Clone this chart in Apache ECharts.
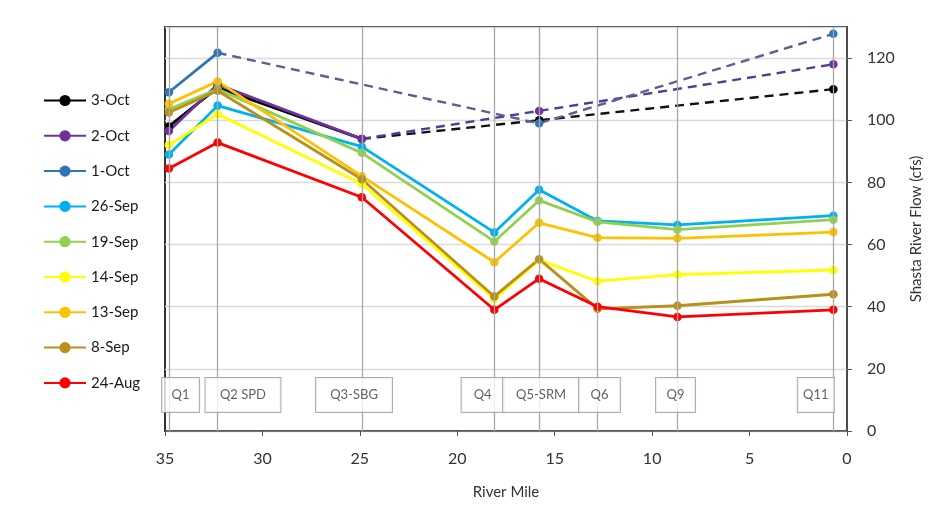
<!DOCTYPE html>
<html>
<head>
<meta charset="utf-8">
<script src="https://cdn.jsdelivr.net/npm/echarts@6/dist/echarts.min.js"></script>
<style>
  html, body { margin: 0; padding: 0; background: #fff; }
  #chart { width: 938px; height: 518px; }
</style>
</head>
<body>
<div id="chart"></div>
<script>
// Monitoring stations along the Shasta River (river mile of each station)
const stations = ['Q1', 'Q2 SPD', 'Q3-SBG', 'Q4', 'Q5-SRM', 'Q6', 'Q9', 'Q11'];
const stationMile = [34.8, 32.3, 24.9, 18.1, 15.8, 12.8, 8.7, 0.7];
// River mile at which each station tag is centred
const tagMile = [34.2, 31.0, 25.3, 18.7, 15.7, 12.7, 8.8, 1.6];

// Survey dates (legend order)
const dates = ['3-Oct', '2-Oct', '1-Oct', '26-Sep', '19-Sep', '14-Sep', '13-Sep', '8-Sep', '24-Aug'];

// Flow (cfs) per station, Q1 .. Q11; null = not measured that day
const flow3Oct  = [98,    110.5, 94,   null, 100,  null, null, 110];
const flow2Oct  = [96.5,  111.5, 94,   null, 103,  null, null, 118];
const flow1Oct  = [109,   121.7, null, null, 99,   null, null, 127.8];
const flow26Sep = [89,    104.7, 91.5, 63.9, 77.6, 67.6, 66.3, 69.3];
const flow19Sep = [103.5, 110,   89.5, 61,   74.2, 67.3, 64.8, 68];
const flow14Sep = [92,    102,   79.5, 42.5, 55,   48.2, 50.3, 51.8];
const flow13Sep = [105.3, 112.5, 82,   54.3, 67,   62.2, 62,   64];
const flow8Sep  = [102.5, 109.5, 81,   43.3, 55.3, 39.3, 40.3, 44];
const flow24Aug = [84.5,  92.8,  75.2, 39,   49,   40,   36.7, 39];

const flows = [flow3Oct, flow2Oct, flow1Oct, flow26Sep, flow19Sep, flow14Sep, flow13Sep, flow8Sep, flow24Aug];

// Line colours per date, and the colour used for the dashed (skipped-station) links
const colors = ['#000000', '#7030A0', '#2E75B6', '#00B0F0', '#92D050', '#FFFF00', '#FFC000', '#B8901A', '#FF0000'];
const dashColors = ['#111111', '#4d3f98', '#56628f', null, null, null, null, null, null];

// Width of each station tag box (px)
const tagWidth = [37, 75, 76, 42, 76, 41, 39, 36];

const FONT = 'Lato, "Open Sans", sans-serif';

function solidData(vals) {
  return vals.map((v, i) => [stationMile[i], v]);
}

// Dashed links join measured stations that have unmeasured stations between them
function dashedData(vals) {
  const idx = vals.map((v, i) => (v == null ? -1 : i)).filter(i => i >= 0);
  const out = [];
  let lastEnd = -1;
  for (let k = 0; k < idx.length - 1; k++) {
    const a = idx[k], b = idx[k + 1];
    if (b > a + 1) {
      if (lastEnd !== a) {
        if (out.length) out.push([null, null]);
        out.push([stationMile[a], vals[a]]);
      }
      out.push([stationMile[b], vals[b]]);
      lastEnd = b;
    }
  }
  return out;
}

const series = [];

// Station reference lines
series.push({
  type: 'scatter',
  name: '__stations',
  data: [],
  z: 1,
  silent: true,
  markLine: {
    silent: true,
    symbol: ['none', 'none'],
    label: { show: false },
    lineStyle: { color: '#a9a9a9', width: 1.3, type: 'solid' },
    data: stationMile.map(m => ({ xAxis: m }))
  }
});

dates.forEach((d, s) => {
  series.push({
    type: 'line',
    name: d,
    data: solidData(flows[s]),
    connectNulls: false,
    z: 3,
    symbol: 'circle',
    symbolSize: 8.5,
    showSymbol: true,
    lineStyle: { color: colors[s], width: 2.8 },
    itemStyle: { color: colors[s] },
    emphasis: { disabled: true },
    animation: false
  });
});

dates.forEach((d, s) => {
  const dd = dashedData(flows[s]);
  if (!dd.length) return;
  series.push({
    type: 'line',
    name: d,
    data: dd,
    connectNulls: false,
    z: 2,
    symbol: 'none',
    lineStyle: { color: dashColors[s] || colors[s], width: 2.4, type: [9, 6] },
    emphasis: { disabled: true },
    animation: false
  });
});

// Station tags near the bottom of the plot
series.push({
  type: 'scatter',
  name: '__tags',
  z: 6,
  silent: true,
  symbolSize: 1,
  itemStyle: { color: 'rgba(0,0,0,0)' },
  data: tagMile.map((m, i) => ({
    value: [m, 11.6],
    label: {
      show: true,
      formatter: stations[i],
      position: 'inside',
      width: tagWidth[i],
      height: 34,
      lineHeight: 34,
      align: 'center',
      verticalAlign: 'middle',
      backgroundColor: '#ffffff',
      borderColor: '#9a9a9a',
      borderWidth: 1,
      padding: 0,
      color: '#3a3a3a',
      fontSize: 13,
      fontFamily: FONT
    }
  })),
  animation: false
});

const chart = echarts.init(document.getElementById('chart'), null, { renderer: 'canvas' });
chart.setOption({
  backgroundColor: '#ffffff',
  animation: false,
  textStyle: { fontFamily: FONT },
  legend: {
    data: dates,
    orient: 'vertical',
    left: 38,
    top: 88,
    itemWidth: 42,
    itemHeight: 14,
    itemGap: 20.3,
    textStyle: { fontSize: 15, color: '#1a1a1a', fontFamily: FONT },
    selectedMode: false
  },
  grid: {
    left: 165,
    right: 91,
    top: 27,
    bottom: 87,
    show: true,
    borderColor: '#333',
    borderWidth: 2,
    containLabel: false
  },
  xAxis: {
    type: 'value',
    inverse: true,
    min: 0,
    max: 35,
    interval: 5,
    name: 'River Mile',
    nameLocation: 'middle',
    nameGap: 54,
    nameTextStyle: { fontSize: 15, color: '#333', fontFamily: FONT },
    axisLine: { show: true, lineStyle: { color: '#555', width: 1.5 } },
    axisTick: { show: true, length: 5, lineStyle: { color: '#555' } },
    axisLabel: { fontSize: 16, color: '#333', margin: 20, fontFamily: FONT },
    splitLine: { show: false }
  },
  yAxis: {
    type: 'value',
    position: 'right',
    min: 0,
    max: 130,
    interval: 20,
    name: 'Shasta River Flow (cfs)',
    nameLocation: 'middle',
    nameGap: 62,
    nameRotate: 90,
    nameTextStyle: { fontSize: 15, color: '#333', fontFamily: FONT },
    axisLine: { show: true, lineStyle: { color: '#555', width: 1.5 } },
    axisTick: { show: true, length: 5, lineStyle: { color: '#555' } },
    axisLabel: { fontSize: 16, color: '#333', margin: 20, showMaxLabel: false, fontFamily: FONT },
    splitLine: { show: true, lineStyle: { color: '#dadada', width: 1.3 } }
  },
  series: series
});
</script>
</body>
</html>
